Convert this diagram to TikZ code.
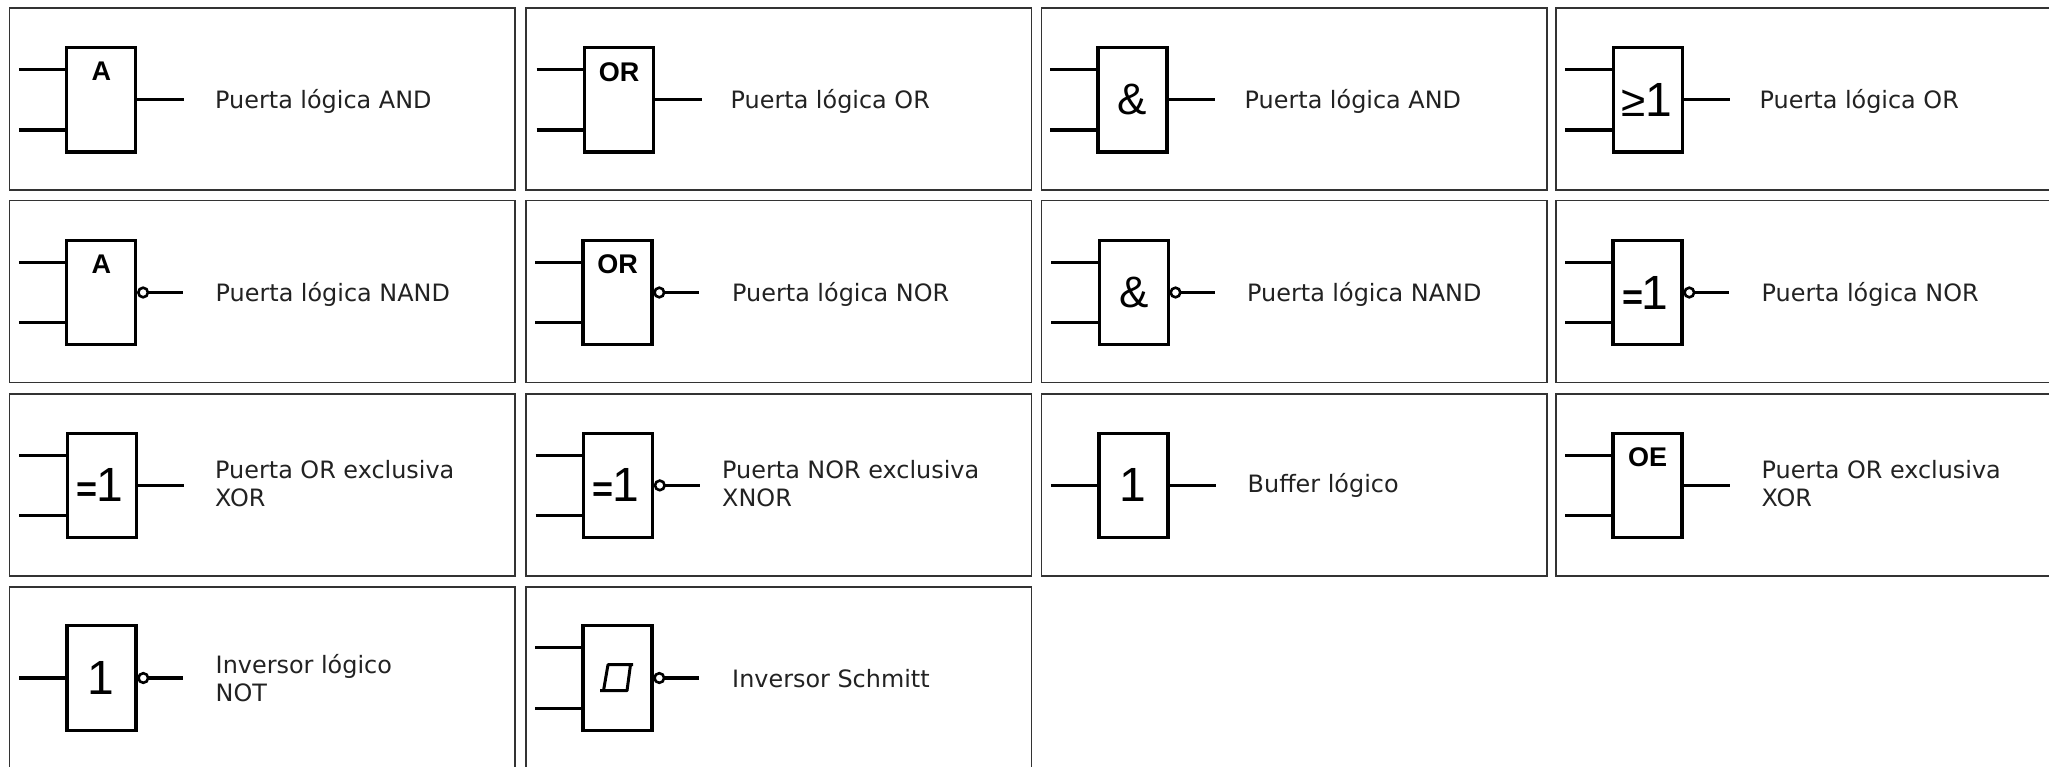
\documentclass[tikz,border=0pt]{standalone}
\usepackage{fontspec}
\setmainfont{Liberation Sans}
\newfontfamily\rotulofont{DejaVu Sans}
\usetikzlibrary{positioning}
\definecolor{marco}{HTML}{333333}
\definecolor{tinta}{HTML}{222222}
\tikzset{
    celda/.style={draw=marco, line width=1.5pt, minimum width=505.5pt, minimum height=182pt, inner sep=0pt, outer sep=0pt},
    puerta/.style={draw=black, line width=3.3pt, fill=white, minimum width=69pt, minimum height=104.5pt, inner sep=0pt, outer sep=0pt, font=\fontsize{48}{48}\selectfont},
    hilo/.style={draw=black, line width=3.2pt},
    burbuja/.style={circle, draw=black, line width=2.6pt, fill=white, minimum size=9.6pt, inner sep=0pt, outer sep=0pt},
    arriba/.style={font=\fontsize{27}{27}\selectfont\bfseries, inner sep=0pt},
    rotulo/.style={anchor=base west, align=left, inner sep=0pt, text=tinta, font=\rotulofont\fontsize{23.9}{27.5}\selectfont},
}
\newcommand{\igualuno}{{\fontsize{36}{36}\selectfont\bfseries=}\kern-1.5pt 1\kern4.4pt}
\begin{document}
\begin{tikzpicture}[x=1pt, y=-1pt]
\useasboundingbox (0,0) rectangle (2049,767);
\fill[white] (0,0) rectangle (2049,767);
% marcos
\foreach \f/\cx/\cy in {c11/262.25/99, c12/778.7/99, c13/1294.3/99, c14/1808.5/99,
    c21/262.25/291.5, c22/778.7/291.5, c23/1294.3/291.5, c24/1808.5/291.5,
    c31/262.25/485, c32/778.7/485, c33/1294.3/485, c34/1808.5/485,
    c41/262.25/678, c42/778.7/678}
    \node[celda] (\f) at (\cx,\cy) {};
% fila 1
\node[puerta] (and1) at (101.3,99.75) {};
\node[arriba, below=14.5pt of and1.north] (and1l) {A};
\node[rotulo] (and1t) at (215,108.5) {Puerta lógica AND};
\node[puerta] (or1) at (619.2,99.75) {};
\node[arriba, below=14.5pt of or1.north] (or1l) {OR};
\node[rotulo] (or1t) at (730.5,108.5) {Puerta lógica OR};
\node[puerta] (and2) at (1132.5,99.75) {\fontsize{44}{44}\selectfont\&};
\node[rotulo] (and2t) at (1244.5,108.5) {Puerta lógica AND};
\node[puerta] (or2) at (1647.7,99.75) {{\fontsize{44}{44}\selectfont ≥}1\kern2.2pt};
\node[rotulo] (or2t) at (1759.5,108.5) {Puerta lógica OR};
% fila 2
\node[puerta] (nand1) at (101.3,292.5) {};
\node[arriba, below=14.5pt of nand1.north] (nand1l) {A};
\node[rotulo] (nand1t) at (215.5,301.2) {Puerta lógica NAND};
\node[puerta] (nor1) at (617.5,292.5) {};
\node[arriba, below=14.5pt of nor1.north] (nor1l) {OR};
\node[rotulo] (nor1t) at (732,301.2) {Puerta lógica NOR};
\node[puerta] (nand2) at (1133.7,292.5) {\fontsize{44}{44}\selectfont\&};
\node[rotulo] (nand2t) at (1247,301.2) {Puerta lógica NAND};
\node[puerta] (nor2) at (1647.5,292.5) {\igualuno};
\node[rotulo] (nor2t) at (1761.5,301.2) {Puerta lógica NOR};
% fila 3
\node[puerta] (xor1) at (101.8,485.4) {\igualuno};
\node[rotulo] (xor1t) at (215,506.4) {Puerta OR exclusiva\\XOR};
\node[puerta] (xnor) at (618,485.4) {\igualuno};
\node[rotulo] (xnort) at (722,506.4) {Puerta NOR exclusiva\\XNOR};
\node[puerta] (buf) at (1133.4,485.4) {1\kern1.5pt};
\node[rotulo] (buft) at (1247.5,492) {Buffer lógico};
\node[puerta] (xor2) at (1647.5,485.4) {};
\node[arriba, below=14.5pt of xor2.north] (xor2l) {OE};
\node[rotulo] (xor2t) at (1761.5,506.4) {Puerta OR exclusiva\\XOR};
% fila 4
\node[puerta] (nota) at (101.5,678) {1\kern1.5pt};
\node[rotulo] (notat) at (215.5,701.4) {Inversor lógico\\NOT};
\node[puerta] (schmitt) at (617.5,678) {};
\node[rotulo] (schmittt) at (732,687) {Inversor Schmitt};
% histeresis
\draw[line width=3pt, line join=round, shift={(schmitt.center)}]
    (15.5,-13.3) -- (-9.5,-13.3) -- (-14,12.7) (-17.5,12.7) -- (9.5,12.7) -- (13,-13.3);
% entradas
\foreach \g in {and1,or1,and2,or2,nand1,nor1,nand2,nor2,xor1,xnor,xor2,schmitt} {
    \coordinate (\g-a) at ([shift={(-48,-30.3)}]\g.west);
    \coordinate (\g-b) at ([shift={(-48,30.3)}]\g.west);
    \draw[hilo] (\g-a) -- (\g-a -| \g.west);
    \draw[hilo] (\g-b) -- (\g-b -| \g.west);
}
\foreach \g in {buf,nota} {
    \coordinate (\g-a) at ([xshift=-48pt]\g.west);
    \draw[hilo] (\g-a) -- (\g.west);
}
% salidas
\foreach \g in {and1,or1,and2,or2,xor1,buf,xor2} {
    \coordinate (\g-s) at ([xshift=48pt]\g.east);
    \draw[hilo] (\g.east) -- (\g-s);
}
\foreach \g in {nand1,nor1,nand2,nor2,xnor,nota,schmitt} {
    \coordinate (\g-s) at ([xshift=47pt]\g.east);
    \node[burbuja] (\g-n) at ([xshift=7.3pt]\g.east) {};
    \draw[hilo] (\g-n.east) -- (\g-s);
}
\end{tikzpicture}
\end{document}
